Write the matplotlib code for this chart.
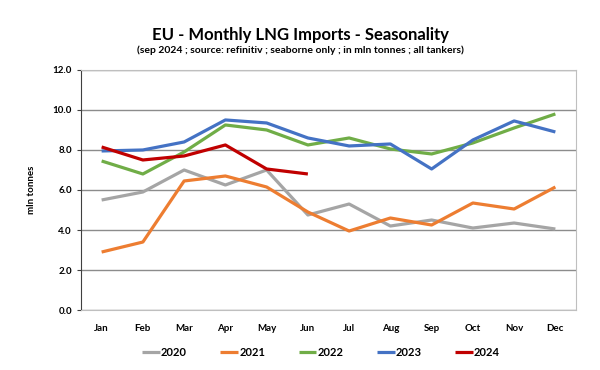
import numpy as np
import matplotlib.pyplot as plt

plt.rcParams['font.family'] = ['Lato', 'DejaVu Sans']
plt.rcParams['font.weight'] = 'bold'
plt.rcParams['axes.labelweight'] = 'bold'

months = ['Jan', 'Feb', 'Mar', 'Apr', 'May', 'Jun', 'Jul', 'Aug', 'Sep', 'Oct', 'Nov', 'Dec']
y2020 = [5.5, 5.9, 7.0, 6.25, 7.0, 4.75, 5.3, 4.2, 4.5, 4.1, 4.35, 4.05]
y2021 = [2.9, 3.4, 6.45, 6.7, 6.15, 4.9, 3.95, 4.6, 4.25, 5.35, 5.05, 6.15]
y2022 = [7.45, 6.8, 7.9, 9.25, 9.0, 8.25, 8.6, 8.05, 7.8, 8.35, 9.1, 9.8]
y2023 = [7.95, 8.0, 8.4, 9.5, 9.35, 8.6, 8.2, 8.3, 7.05, 8.5, 9.45, 8.9]
y2024 = [8.15, 7.5, 7.7, 8.25, 7.05, 6.8]

series = [('2020', y2020, '#A5A5A5'),
          ('2021', y2021, '#ED7D31'),
          ('2022', y2022, '#70AD47'),
          ('2023', y2023, '#4472C4'),
          ('2024', y2024, '#C00000')]

fig = plt.figure(figsize=(6, 3.7), dpi=100)
ax = fig.add_axes([0.135, 0.162, 0.825, 0.649])

x = np.arange(len(months))
for name, vals, col in series:
    ax.plot(x[:len(vals)], vals, color=col, lw=2.3, label=name, solid_capstyle='butt')

ax.set_xlim(-0.5, 11.5)
ax.set_ylim(0, 12)
ax.set_yticks(np.arange(0, 12.1, 2))
ax.set_yticklabels(['%.1f' % v for v in np.arange(0, 12.1, 2)])
ax.set_xticks(x)
ax.set_xticklabels(months)
ax.tick_params(axis='x', length=0, labelsize=7, pad=10)
ax.tick_params(axis='y', length=3, labelsize=7, color='#404040')
ax.grid(axis='y', color='#8C8C8C', lw=1.0)
ax.set_axisbelow(True)
for s in ['top', 'right', 'bottom']:
    ax.spines[s].set_color('#BFBFBF')
ax.spines['left'].set_color('#404040')
ax.set_ylabel('mln tonnes', fontsize=7, labelpad=12)

fig.text(0.5, 0.893, 'EU - Monthly LNG Imports - Seasonality', ha='center', fontsize=12)
fig.text(0.5, 0.857, '(sep 2024 ; source: refinitiv ; seaborne only ; in mln tonnes ; all tankers)',
         ha='center', fontsize=7.5)

fig.legend(loc='center', bbox_to_anchor=(0.535, 0.048), ncol=5, frameon=False,
           fontsize=8, handlelength=1.6, handletextpad=0.1, columnspacing=3.0)

fig.savefig('out.png', dpi=100, facecolor='white')
